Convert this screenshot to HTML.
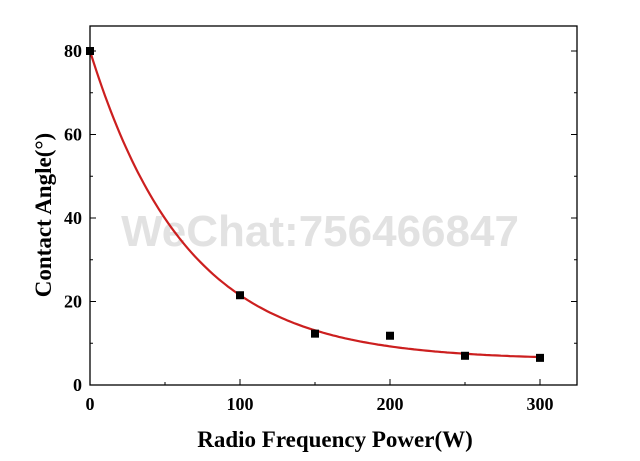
<!DOCTYPE html>
<html><head><meta charset="utf-8"><style>
html,body{margin:0;padding:0;background:#fff;}
svg{display:block;font-family:"Liberation Serif",serif;font-weight:bold;}
</style></head><body>
<svg id="chart" width="640" height="461" viewBox="0 0 640 461">
<text x="320" y="246" text-anchor="middle" font-family="Liberation Sans, sans-serif" font-size="44" fill="#e2e2e2">WeChat:756466847</text>
<g id="axes"></g>
<g id="curve"></g>
<g id="points"></g>
<rect x="90" y="26" width="487" height="359" fill="none" stroke="#000" stroke-width="1.3"/>
<text x="335" y="447" text-anchor="middle" font-size="23">Radio Frequency Power(W)</text>
<text transform="translate(51,215) rotate(-90)" text-anchor="middle" font-size="23">Contact Angle(°)</text>
</svg>
<script>
const powers=[0,100,150,200,250,300];
const angles=[80,21.5,12.3,11.8,7,6.5];
const xTicks=[0,100,200,300];
const yTicks=[0,20,40,60,80];
const fitParams=[6,74,64]; // y0, A, t
const NS="http://www.w3.org/2000/svg";
const X0=90,XS=1.5,Y0=385,YS=4.175;
const sx=v=>X0+v*XS, sy=v=>Y0-v*YS;
function mk(tag,attrs,parent){const e=document.createElementNS(NS,tag);for(const k in attrs)e.setAttribute(k,attrs[k]);parent.appendChild(e);return e;}
const axes=document.getElementById('axes');
xTicks.forEach(t=>{
 const l=mk('line',{x1:sx(t),x2:sx(t),y1:385,y2:379,stroke:'#000'},axes);
 
 
 const tx=mk('text',{x:sx(t),y:410,'text-anchor':'middle','font-size':'18'},axes);
 tx.textContent=t;
 
 
});
[50,150,250].forEach(t=>{
 const l=mk('line',{x1:sx(t),x2:sx(t),y1:385,y2:382,stroke:'#000'},axes);
 
 
});
yTicks.forEach(t=>{
 [[90,96],[577,571]].forEach(p=>{
  const l=mk('line',{x1:p[0],x2:p[1],y1:sy(t),y2:sy(t),stroke:'#000'},axes);
  
  
 });
 const tx=mk('text',{x:82,y:sy(t)+6,'text-anchor':'end','font-size':'18'},axes);
 tx.textContent=t;
 
 
});
[10,30,50,70].forEach(t=>{
 [[90,93],[577,574]].forEach(p=>{
  const l=mk('line',{x1:p[0],x2:p[1],y1:sy(t),y2:sy(t),stroke:'#000'},axes);
  
  
 });
});
let d='';
for(let x=0;x<=300;x+=2){const y=fitParams[0]+fitParams[1]*Math.exp(-x/fitParams[2]);d+=(x?'L':'M')+sx(x).toFixed(1)+','+sy(y).toFixed(1);}
const path=mk('path',{d:d,fill:'none',stroke:'#cc1f1f','stroke-width':'2.2'},document.getElementById('curve'));


const pts=document.getElementById('points');
powers.forEach((p,i)=>{
 const r=mk('rect',{x:sx(p)-4,y:sy(angles[i])-4,width:8,height:8,fill:'#000'},pts);
 
 
});
</script>
</body></html>
